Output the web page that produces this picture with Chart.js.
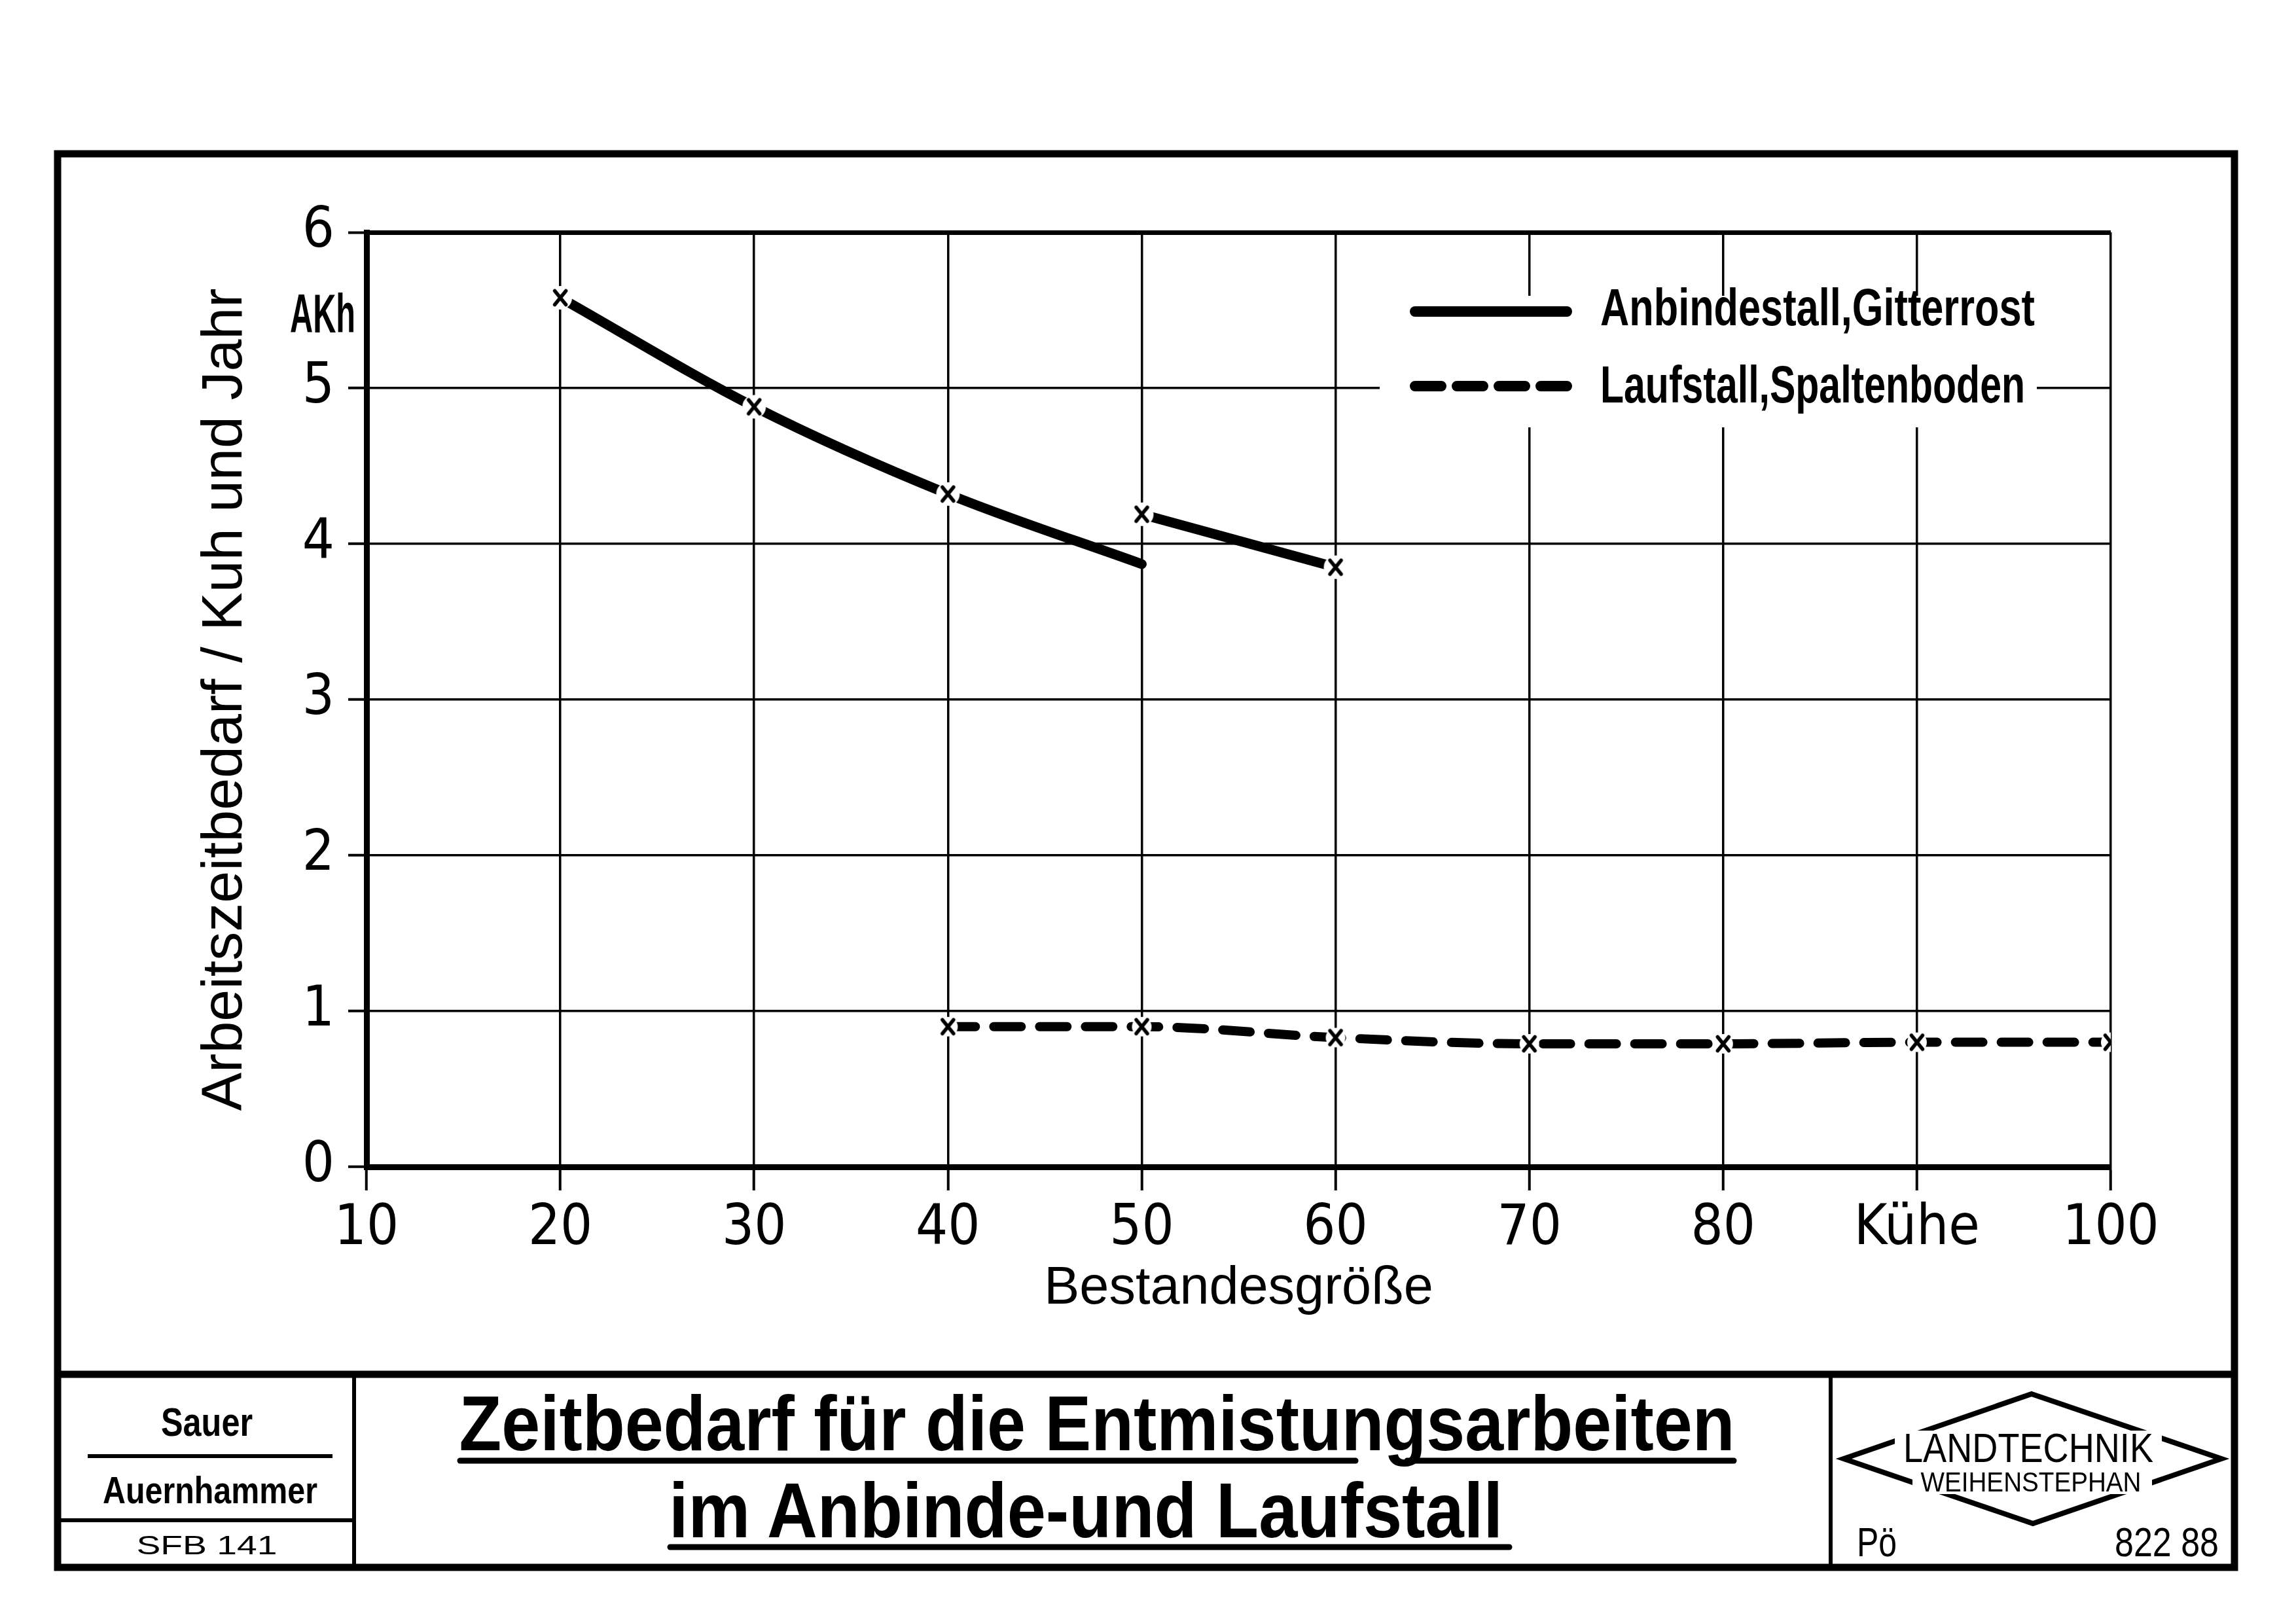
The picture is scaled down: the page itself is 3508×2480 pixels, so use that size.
<!DOCTYPE html>
<html><head><meta charset="utf-8">
<script src="https://cdn.jsdelivr.net/npm/chart.js@4.4.1/dist/chart.umd.min.js"></script>
<style>
html,body{margin:0;padding:0;background:#fff;width:3508px;height:2480px;overflow:hidden}
#wrap{position:absolute;left:0;top:0;width:3508px;height:2095px}
#sheet{position:absolute;left:0;top:0}
#sheet text{font-family:"Liberation Sans",Arial,sans-serif;fill:#000}
</style></head><body>
<div id="wrap"><canvas id="c"></canvas></div>
<svg id="sheet" width="3508" height="2480" viewBox="0 0 3508 2480" stroke="#000" fill="none">
  <rect x="88" y="235" width="3326" height="2160" stroke-width="11"/>
  <line x1="88" y1="2100" x2="3414" y2="2100" stroke-width="11"/>
  <line x1="541" y1="2100" x2="541" y2="2395" stroke-width="6"/>
  <line x1="2797" y1="2100" x2="2797" y2="2395" stroke-width="6"/>
  <!-- left cell -->
  <text x="316" y="2194" text-anchor="middle" font-size="61" font-weight="bold" stroke="none" textLength="140" lengthAdjust="spacingAndGlyphs">Sauer</text>
  <line x1="134" y1="2225" x2="508" y2="2225" stroke-width="6"/>
  <text x="321" y="2297" text-anchor="middle" font-size="57" font-weight="bold" stroke="none" textLength="328" lengthAdjust="spacingAndGlyphs">Auernhammer</text>
  <line x1="88" y1="2323" x2="541" y2="2323" stroke-width="6"/>
  <text x="316" y="2375" text-anchor="middle" font-size="41" stroke="none" textLength="215" lengthAdjust="spacingAndGlyphs">SFB 141</text>
  <!-- title -->
  <text x="1676" y="2216" text-anchor="middle" font-size="119" font-weight="bold" stroke="none" textLength="1949" lengthAdjust="spacingAndGlyphs">Zeitbedarf für die Entmistungsarbeiten</text>
  <line x1="703" y1="2232" x2="2071" y2="2232" stroke-width="9" stroke-linecap="round"/>
  <line x1="2150" y1="2232" x2="2649" y2="2232" stroke-width="9" stroke-linecap="round"/>
  <text x="1659" y="2349" text-anchor="middle" font-size="119" font-weight="bold" stroke="none" textLength="1274" lengthAdjust="spacingAndGlyphs">im Anbinde-und Laufstall</text>
  <line x1="1024" y1="2364" x2="2306" y2="2364" stroke-width="9" stroke-linecap="round"/>
  <!-- logo -->
  <polygon points="3104,2130 3394,2229 3106,2328 2817,2229" stroke-width="8"/>
  <rect x="2895" y="2186" width="408" height="54" fill="#fff" stroke="none"/>
  <rect x="2922" y="2242" width="366" height="41" fill="#fff" stroke="none"/>
  <text x="3099" y="2234" text-anchor="middle" font-size="63" stroke="none" textLength="382" lengthAdjust="spacingAndGlyphs">LANDTECHNIK</text>
  <text x="3103" y="2279" text-anchor="middle" font-size="42" stroke="none" textLength="337" lengthAdjust="spacingAndGlyphs">WEIHENSTEPHAN</text>
  <text x="2837" y="2378" font-size="63" stroke="none" textLength="61" lengthAdjust="spacingAndGlyphs">Pö</text>
  <text x="3390" y="2378" text-anchor="end" font-size="63" stroke="none" textLength="159" lengthAdjust="spacingAndGlyphs">822 88</text>
</svg>
<script>
// ---------- data ----------
const xTickValues = [10, 20, 30, 40, 50, 60, 70, 80, 90, 100];
const xTickLabels = ['10', '20', '30', '40', '50', '60', '70', '80', 'Kühe', '100'];
const yTickValues = [0, 1, 2, 3, 4, 5, 6];
const seriesLabels = ['Anbindestall,Gitterrost', 'Laufstall,Spaltenboden'];
// Anbindestall: two curve pieces (break at 50 cows)
const anbindeCows = [20, 30, 40, 50, 50, 50, 60];
const anbindeAKh  = [5.58, 4.88, 4.32, 3.87, null, 4.19, 3.85];
// Laufstall
const laufCows = [40, 50, 60, 70, 80, 90, 100];
const laufAKh  = [0.90, 0.90, 0.83, 0.79, 0.79, 0.80, 0.80];
const xTitle = 'Bestandesgröße';
const yTitle = 'Arbeitszeitbedarf / Kuh und Jahr';
const yUnit = 'AKh';

// ---------- fonts ----------
function hasFont(name) {
  const g = document.createElement('canvas').getContext('2d');
  const t = 'mmmmmmmmmmlli 0123456789 WwQq';
  let diff = false;
  for (const base of ['monospace', 'serif']) {
    g.font = '72px ' + base; const a = g.measureText(t).width;
    g.font = '72px "' + name + '", ' + base; const b = g.measureText(t).width;
    if (Math.abs(a - b) > 0.5) diff = true;
  }
  return diff;
}
const narrowFam = ['Liberation Sans Narrow', 'DejaVu Sans Condensed', 'Roboto Condensed', 'Open Sans Condensed']
  .find(hasFont) || 'Liberation Sans';
const mainFam = '"Liberation Sans", Arial, sans-serif';
const tickFam = '"' + narrowFam + '", ' + mainFam;

// ---------- markers (x with white halo) ----------
function makeMarker(halo) {
  const s = 2 * halo + 4;
  const c = document.createElement('canvas');
  c.width = s; c.height = s;
  const g = c.getContext('2d');
  g.fillStyle = '#fff';
  g.beginPath(); g.arc(s / 2, s / 2, halo, 0, Math.PI * 2); g.fill();
  g.strokeStyle = '#000'; g.lineWidth = 5.5; g.lineCap = 'round';
  const hx = 8.5, hy = 10.5;
  g.beginPath();
  g.moveTo(s / 2 - hx, s / 2 - hy); g.lineTo(s / 2 + hx, s / 2 + hy);
  g.moveTo(s / 2 + hx, s / 2 - hy); g.lineTo(s / 2 - hx, s / 2 + hy);
  g.stroke();
  return c;
}
const markerSolid = makeMarker(18);
const markerDash = makeMarker(15);

const markRadius = c => {
  const d = c.dataset.data;
  const nx = d[c.dataIndex + 1];
  return (nx && nx.y === null) ? 0 : 12;
};

function fitText(g, text, x, baseline, width, font) {
  g.font = font;
  const w = g.measureText(text).width;
  g.save();
  g.translate(x, baseline);
  g.scale(width / w, 1);
  g.textAlign = 'left'; g.textBaseline = 'alphabetic';
  g.fillStyle = '#000';
  g.fillText(text, 0, 0);
  g.restore();
}

const legendPlugin = {
  id: 'paperLegend',
  beforeDatasetsDraw(chart) {
    const g = chart.ctx, a = chart.chartArea;
    const L = a.left + 1548, T = a.top + 97;
    g.save();
    g.fillStyle = '#fff';
    g.fillRect(L, T, 1004, 201);
    const rows = [{y: T + 24, ty: T + 45, w: 664}, {y: T + 138, ty: T + 163, w: 649}];
    chart.data.datasets.forEach((ds, i) => {
      const r = rows[i];
      g.strokeStyle = '#000';
      g.lineWidth = 16;
      g.lineCap = 'round';
      g.setLineDash(ds.borderDash ? [40, 24] : []);
      g.beginPath();
      g.moveTo(L + 54, r.y); g.lineTo(L + 286, r.y);
      g.stroke();
      g.setLineDash([]);
      fitText(g, ds.label, L + 337, r.ty, r.w, 'bold 80px ' + mainFam);
    });
    g.restore();
  },
  afterDraw(chart) {
    const g = chart.ctx, a = chart.chartArea;
    fitText(g, yUnit, a.left - 117, a.top + 153, 100, 'bold 84px ' + mainFam);
  }
};

Chart.defaults.font.family = mainFam;
Chart.defaults.color = '#000';

new Chart(document.getElementById('c'), {
  type: 'line',
  data: {
    datasets: [
      {
        label: seriesLabels[0],
        data: anbindeCows.map((x, i) => ({x, y: anbindeAKh[i]})),
        borderColor: '#000', borderWidth: 15,
        borderCapStyle: 'round', borderJoinStyle: 'round',
        cubicInterpolationMode: 'monotone', spanGaps: false, fill: false,
        pointStyle: markerSolid, pointRadius: markRadius, pointHoverRadius: markRadius
      },
      {
        label: seriesLabels[1],
        data: laufCows.map((x, i) => ({x, y: laufAKh[i]})),
        borderColor: '#000', borderWidth: 14,
        borderDash: [42, 28], borderCapStyle: 'round',
        cubicInterpolationMode: 'monotone', fill: false,
        pointStyle: markerDash, pointRadius: markRadius, pointHoverRadius: markRadius
      }
    ]
  },
  options: {
    responsive: true, maintainAspectRatio: false, devicePixelRatio: 1, animation: false,
    events: [],
    layout: {padding: {left: 0, top: 355, right: 283, bottom: 0}},
    plugins: {legend: {display: false}, tooltip: {enabled: false}},
    scales: {
      x: {
        type: 'linear', min: xTickValues[0], max: xTickValues[xTickValues.length - 1],
        afterBuildTicks: s => { s.ticks = xTickValues.map(v => ({value: v})); },
        afterFit: s => { s.height = 312; },
        ticks: {
          font: {size: 86, family: tickFam}, color: '#000', padding: 8, maxRotation: 0, autoSkip: false,
          callback: v => { const i = xTickValues.indexOf(v); return i >= 0 ? xTickLabels[i] : ''; }
        },
        grid: {color: '#000', lineWidth: 3.5, tickLength: 36, tickWidth: 4, tickColor: '#000'},
        border: {display: true, color: '#000', width: 9},
        title: {display: true, text: xTitle, color: '#000', font: {size: 81}, padding: {top: 0, bottom: 77}}
      },
      y: {
        min: yTickValues[0], max: yTickValues[yTickValues.length - 1],
        afterBuildTicks: s => { s.ticks = yTickValues.map(v => ({value: v})); },
        afterFit: s => { s.width = 560; },
        ticks: {font: {size: 86, family: tickFam}, color: '#000', padding: 21},
        grid: {
          color: '#000',
          lineWidth: c => (c.tick && c.tick.value === yTickValues[yTickValues.length - 1]) ? 7 : 3.5,
          tickLength: 28, tickWidth: 4, tickColor: '#000'
        },
        border: {display: true, color: '#000', width: 9},
        title: {display: true, text: yTitle, color: '#000', font: {size: 88}, padding: {top: 292, bottom: 0}}
      }
    }
  },
  plugins: [legendPlugin]
});
</script>
</body></html>
